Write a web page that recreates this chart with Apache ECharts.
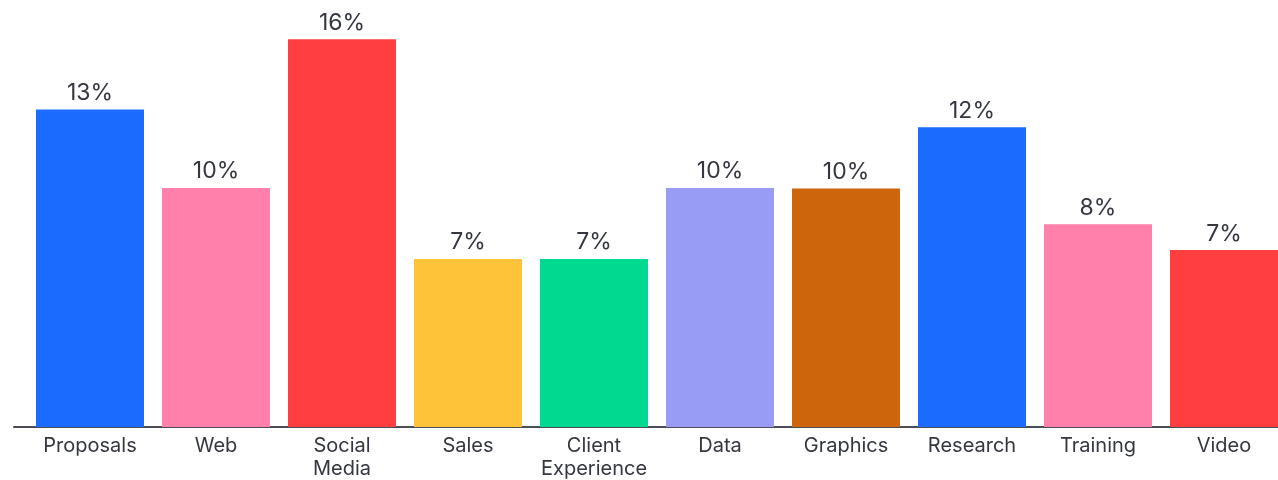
<!DOCTYPE html>
<html>
<head>
<meta charset="utf-8">
<script src="https://cdn.jsdelivr.net/npm/echarts@6/dist/echarts.min.js"></script>
<style>
html,body{margin:0;padding:0;background:#fff;}
#chart{width:1278px;height:480px;}
</style>
</head>
<body>
<div id="chart"></div>
<script>
var categories = ['Proposals', 'Web', 'Social\nMedia', 'Sales', 'Client\nExperience', 'Data', 'Graphics', 'Research', 'Training', 'Video'];
var shares = [13.1, 9.86, 16.0, 6.93, 6.93, 9.86, 9.84, 12.37, 8.37, 7.3];
var barColors = ['#1b6bff', '#ff80aa', '#ff3f3f', '#ffc33a', '#00d98f', '#999cf5', '#cc650c', '#1b6bff', '#ff80aa', '#ff3f3f'];

var textColor = '#34373f';
var fontFam = 'Inter, "Noto Sans", sans-serif';

var chart = echarts.init(document.getElementById('chart'));
chart.setOption({
  animation: false,
  grid: [
    {left: 27, width: 1260, top: 15, bottom: 53, outerBoundsMode: 'none', containLabel: false},
    {left: 14, right: 0, top: 15, bottom: 53, outerBoundsMode: 'none', containLabel: false}
  ],
  xAxis: [
    {
      type: 'category', gridIndex: 0, data: categories,
      axisLine: {show: false},
      axisTick: {show: false},
      axisLabel: {color: textColor, fontSize: 20, fontFamily: fontFam, margin: 7, lineHeight: 23, interval: 0}
    },
    {
      type: 'value', gridIndex: 1, min: 0, max: 1,
      axisLine: {show: true, lineStyle: {color: '#4a4d55', width: 2}},
      axisTick: {show: false}, axisLabel: {show: false}, splitLine: {show: false}
    }
  ],
  yAxis: [
    {type: 'value', gridIndex: 0, min: 0, max: 17, show: false},
    {type: 'value', gridIndex: 1, min: 0, max: 1, show: false}
  ],
  series: [{
    type: 'bar',
    xAxisIndex: 0, yAxisIndex: 0,
    data: shares.map(function (v, i) { return {value: v, itemStyle: {color: barColors[i]}}; }),
    barWidth: 108,
    z: 1,
    label: {
      show: true, position: 'top', distance: 5,
      color: textColor, fontSize: 23, fontFamily: fontFam,
      formatter: function (p) { return Math.round(p.value) + '%'; }
    }
  }]
});
</script>
</body>
</html>
